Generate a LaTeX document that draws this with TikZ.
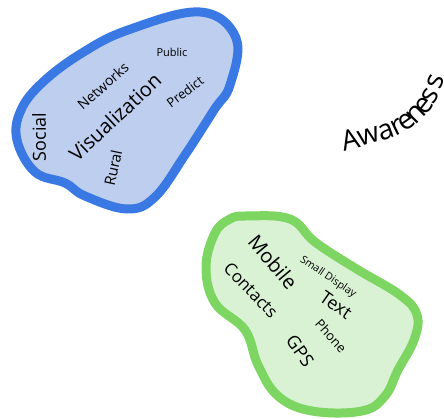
\documentclass[tikz,border=0pt]{standalone}
\usepackage{fontspec}
\setmainfont{Open Sans}
\definecolor{bluefill}{RGB}{189,206,238}
\definecolor{bluestroke}{RGB}{58,120,228}
\definecolor{greenfill}{RGB}{218,242,212}
\definecolor{greenstroke}{RGB}{125,214,98}
\begin{document}
\begin{tikzpicture}[x=1pt,y=-1pt,
  word/.style={inner sep=0pt, text=black},
  fs/.style={font=\fontsize{#1}{#1}\selectfont},
  aw/.style={word, fs=28, rotate=#1}]
\useasboundingbox (0,0) rectangle (444,419);
% blue blob
\draw[bluestroke, fill=bluefill, line width=9pt] plot[smooth cycle, tension=0.65] coordinates {
 (200,12) (236,38) (230,85) (214,110) (185,155) (155,197) (127,209) (85,196) (65,183) (35,172) (17,140) (21,110) (43,82) (82,53) (128,30)};
% green blob
\draw[greenstroke, fill=greenfill, line width=9pt] plot[smooth cycle, tension=0.65] coordinates {
 (247,216) (290,219) (315,242) (355,268) (400,295) (417,315) (414,340) (398,370) (385,396) (362,411) (312,411) (278,396) (258,365) (245,330) (215,303) (206,267) (215,233) (230,219)};
% blue words
\node[word, fs=18, rotate=90] (social) at (39,137) {Social};
\node[word, fs=20, rotate=43] (vis) at (115,117) {Visualization};
\node[word, fs=14, rotate=41] (net) at (103,86) {Networks};
\node[word, fs=11, rotate=0] (pub) at (172,52) {Public};
\node[word, fs=13, rotate=37] (pred) at (185,92) {Predict};
\node[word, fs=15, rotate=78] (rural) at (113,168) {Rural};
% green words
\node[word, fs=20, rotate=-50] (mobile) at (273,262) {Mobile};
\node[word, fs=10.5, rotate=-34] (small) at (328,277) {Small Display};
\node[word, fs=17, rotate=-46] (contacts) at (251,290) {Contacts};
\node[word, fs=18, rotate=-35] (text) at (336,305) {Text};
\node[word, fs=13, rotate=-48] (phone) at (331,336) {Phone};
\node[word, fs=18, rotate=-55] (gps) at (300,351) {GPS};
% curved word "Awareness", letter by letter
\node[aw=14] (aw1) at (350,140) {A};
\node[aw=16] (aw2) at (369,136) {w};
\node[aw=20] (aw3) at (386,132) {a};
\node[aw=26] (aw4) at (397,127) {r};
\node[aw=35] (aw5) at (407,122) {e};
\node[aw=45] (aw6) at (416,114) {n};
\node[aw=52] (aw7) at (424,106) {e};
\node[aw=60] (aw8) at (430,96) {s};
\node[aw=70] (aw9) at (436,82) {s};
\end{tikzpicture}
\end{document}
